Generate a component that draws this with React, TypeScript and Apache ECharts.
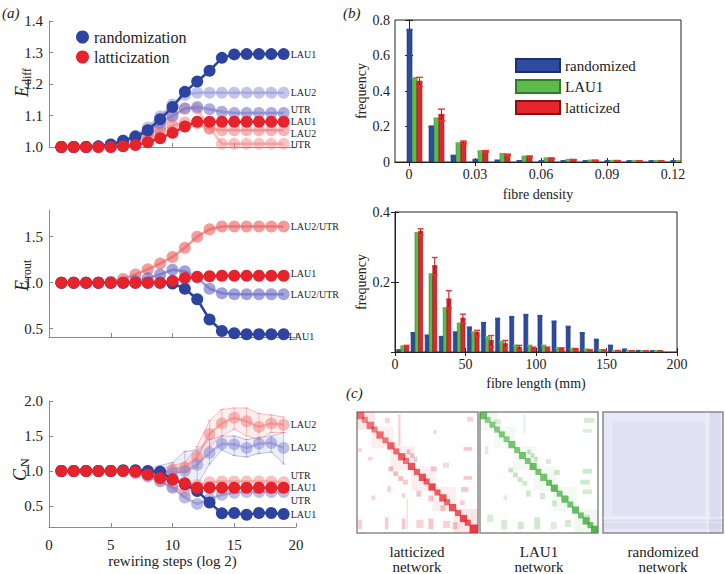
import React, { useEffect, useRef } from 'react';
import * as echarts from 'echarts';

const FONT = 'Liberation Serif, DejaVu Serif, serif';

// ---------- panel (a) data ----------
const steps = [1, 2, 3, 4, 5, 6, 7, 8, 9, 10, 11, 12, 13, 14, 15, 16, 17, 18, 19];

const ediffRandLAU1 = [1.0, 1.0, 1.0, 1.002, 1.008, 1.02, 1.033, 1.053, 1.088, 1.127, 1.175, 1.208, 1.242, 1.283, 1.294, 1.295, 1.295, 1.295, 1.295];
const ediffRandLAU2 = [1.0, 1.0, 1.0, 1.002, 1.008, 1.02, 1.036, 1.062, 1.098, 1.135, 1.165, 1.172, 1.172, 1.172, 1.172, 1.172, 1.172, 1.172, 1.172];
const ediffRandUTR = [1.0, 1.0, 1.0, 1.002, 1.006, 1.016, 1.03, 1.05, 1.075, 1.1, 1.122, 1.127, 1.12, 1.112, 1.108, 1.108, 1.108, 1.108, 1.108];
const ediffLatLAU1 = [1.0, 1.0, 1.0, 1.0, 1.0, 1.002, 1.006, 1.015, 1.028, 1.045, 1.065, 1.08, 1.08, 1.08, 1.08, 1.08, 1.08, 1.08, 1.08];
const ediffLatLAU2 = [1.0, 1.0, 1.0, 1.0, 1.0, 1.003, 1.01, 1.028, 1.05, 1.068, 1.078, 1.075, 1.058, 1.053, 1.053, 1.053, 1.053, 1.053, 1.053];
const ediffLatUTR = [1.0, 1.0, 1.0, 1.0, 1.0, 1.003, 1.012, 1.035, 1.06, 1.095, 1.122, 1.122, 1.06, 1.01, 1.01, 1.01, 1.01, 1.01, 1.01];

const eroutRandLAU1 = [1, 1, 1, 1, 1, 1, 1, 1, 1.0, 0.99, 0.935, 0.82, 0.6, 0.475, 0.45, 0.44, 0.44, 0.44, 0.44];
const eroutRandLAU2UTR = [1, 1, 1, 1, 1, 1, 1.02, 1.05, 1.09, 1.14, 1.125, 1.055, 0.935, 0.885, 0.875, 0.875, 0.875, 0.875, 0.875];
const eroutLatLAU1 = [1, 1, 1, 1, 1, 1, 1, 1, 1.0, 1.02, 1.05, 1.065, 1.07, 1.075, 1.075, 1.075, 1.075, 1.075, 1.075];
const eroutLatLAU2UTR = [1, 1, 1, 1, 1.01, 1.04, 1.09, 1.145, 1.21, 1.28, 1.38, 1.5, 1.58, 1.61, 1.61, 1.61, 1.61, 1.61, 1.61];

const cnRandLAU1 = [1, 1, 1, 1, 1, 1.01, 1.01, 1.0, 0.99, 0.88, 0.81, 0.715, 0.55, 0.395, 0.4, 0.375, 0.4, 0.4, 0.385];
const cnRandLAU2 = [1, 1, 1, 1, 1, 1, 1, 0.99, 0.98, 0.98, 1.0, 1.09, 1.26, 1.39, 1.38, 1.33, 1.39, 1.4, 1.33];
const cnRandUTR = [1, 1, 1, 1, 1, 1, 0.98, 0.93, 0.86, 0.76, 0.62, 0.53, 0.6, 0.66, 0.69, 0.7, 0.7, 0.7, 0.7];
const cnLatLAU1 = [1, 1, 1, 1, 1, 1, 0.99, 0.95, 0.9, 0.88, 0.825, 0.76, 0.76, 0.76, 0.76, 0.76, 0.76, 0.76, 0.76];
const cnLatLAU2 = [1, 1, 1, 1, 1, 1, 1, 0.99, 0.98, 1.02, 1.05, 1.2, 1.53, 1.68, 1.76, 1.71, 1.63, 1.68, 1.66];
const cnLatUTR = [1, 1, 1, 1, 1, 1, 0.97, 0.92, 0.85, 0.77, 0.7, 0.8, 0.84, 0.85, 0.85, 0.85, 0.85, 0.85, 0.84];

const cnRandLAU2Lo = [1, 1, 1, 1, 1, 0.99, 0.98, 0.96, 0.94, 0.9, 0.85, 0.8, 1.1, 1.3, 1.22, 1.2, 1.25, 1.27, 1.1];
const cnRandLAU2Hi = [1, 1, 1, 1, 1, 1.01, 1.02, 1.03, 1.08, 1.12, 1.28, 1.3, 1.45, 1.5, 1.5, 1.45, 1.48, 1.5, 1.55];
const cnLatLAU2Lo = [1, 1, 1, 1, 1, 0.99, 0.98, 0.96, 0.95, 0.97, 0.98, 1.05, 1.35, 1.5, 1.6, 1.5, 1.45, 1.55, 1.55];
const cnLatLAU2Hi = [1, 1, 1, 1, 1, 1.01, 1.02, 1.02, 1.02, 1.08, 1.12, 1.35, 1.72, 1.88, 1.9, 1.9, 1.82, 1.8, 1.77];

// ---------- panel (b) data ----------
const densBins = [0, 0.01, 0.02, 0.03, 0.04, 0.05, 0.06, 0.07, 0.08, 0.09, 0.1, 0.11, 0.12];
const densRand = [0.745, 0.2, 0.035, 0.012, 0.008, 0.005, 0.003, 0.002, 0.001, 0.001, 0.001, 0.001, 0.003];
const densLAU1 = [0.472, 0.245, 0.105, 0.06, 0.045, 0.03, 0.02, 0.012, 0.008, 0.006, 0.004, 0.002, 0.001];
const densLatt = [0.452, 0.265, 0.11, 0.06, 0.04, 0.03, 0.02, 0.012, 0.008, 0.006, 0.004, 0.002, 0.001];
const densLattErr = [0.025, 0.033, 0.008, 0.004, 0.004, 0.003, 0.002, 0.001, 0.001, 0.001, 0.001, 0.001, 0.001];
const densTicks = [0, 0.03, 0.06, 0.09, 0.12];

const lenBins = [0, 10, 20, 30, 40, 50, 60, 70, 80, 90, 100, 110, 120, 130, 140, 150, 160, 170, 180];
const lenRand = [0.005, 0.054, 0.047, 0.043, 0.056, 0.07, 0.083, 0.095, 0.1, 0.106, 0.103, 0.087, 0.072, 0.054, 0.035, 0.018, 0.007, 0.003, 0.002];
const lenLAU1 = [0.016, 0.34, 0.222, 0.125, 0.081, 0.056, 0.042, 0.029, 0.018, 0.018, 0.018, 0.011, 0.009, 0.007, 0.005, 0.002, 0.001, 0.001, 0.0];
const lenLatt = [0.016, 0.343, 0.245, 0.15, 0.095, 0.054, 0.031, 0.022, 0.012, 0.01, 0.01, 0.008, 0.007, 0.005, 0.004, 0.003, 0.002, 0.001, 0.001];
const lenLattErr = [0.003, 0.009, 0.025, 0.025, 0.013, 0.008, 0.016, 0.011, 0.007, 0.004, 0.004, 0.004, 0.003, 0.002, 0.002, 0.001, 0.001, 0.001, 0.001];

// ---------- panel (c) data (0-100 matrix scale) ----------
// diagonal clusters: [start, size, density]
const latDiag = [
  [0, 6, 0.6], [4, 5, 0.5], [8, 6, 0.6], [12, 5, 0.55], [16, 6, 0.65], [21, 5, 0.6], [25, 6, 0.7], [30, 5, 0.65],
  [34, 6, 0.7], [38, 5, 0.6], [42, 6, 0.75], [47, 5, 0.7], [51, 6, 0.75], [55, 5, 0.7], [59, 6, 0.8], [64, 5, 0.7],
  [68, 6, 0.75], [72, 5, 0.65], [76, 6, 0.75], [81, 5, 0.7], [85, 6, 0.8], [89, 5, 0.75], [93, 7, 0.85],
];
const lauDiag = [
  [0, 6, 0.7], [4, 5, 0.55], [8, 5, 0.6], [12, 5, 0.6], [16, 5, 0.65], [20, 5, 0.6], [24, 6, 0.7], [29, 5, 0.65],
  [33, 6, 0.7], [38, 5, 0.65], [42, 6, 0.75], [47, 5, 0.7], [51, 6, 0.7], [56, 5, 0.75], [60, 6, 0.8], [65, 5, 0.7],
  [69, 6, 0.75], [74, 5, 0.7], [78, 6, 0.75], [83, 5, 0.7], [87, 6, 0.8], [91, 5, 0.75], [94, 6, 0.85],
];
// other patches: [x0, y0, x1, y1, density]
const latPatches = [
  [0, 0, 15, 15, 0.1], [12, 12, 30, 30, 0.07], [28, 28, 48, 48, 0.07], [45, 45, 65, 65, 0.07], [62, 62, 82, 82, 0.07], [80, 80, 100, 100, 0.1],
  [34, 2, 36, 28, 0.2], [23, 5, 27, 9, 0.2], [91, 4, 96, 8, 0.2], [1, 30, 4, 33, 0.2], [9, 37, 13, 40, 0.18],
  [26, 45, 30, 49, 0.3], [30, 49, 34, 53, 0.3], [34, 53, 38, 57, 0.28], [38, 56, 42, 60, 0.25],
  [41, 31, 44, 35, 0.28], [44, 34, 47, 38, 0.28], [47, 37, 50, 41, 0.25],
  [61, 45, 66, 49, 0.22], [71, 42, 76, 46, 0.18], [88, 29, 95, 32, 0.25], [88, 53, 95, 56, 0.25], [86, 62, 92, 66, 0.25],
  [85, 73, 89, 77, 0.22], [49, 65, 53, 70, 0.25], [59, 69, 63, 74, 0.25], [69, 77, 73, 82, 0.25], [25, 61, 28, 66, 0.2],
  [12, 69, 15, 73, 0.18], [37, 67, 40, 71, 0.2], [1, 89, 4, 97, 0.22], [23, 87, 26, 97, 0.22], [37, 88, 40, 97, 0.25],
  [49, 89, 55, 96, 0.2], [59, 88, 63, 97, 0.25], [71, 90, 77, 96, 0.2], [41, 72, 42, 97, 0.18], [63, 15, 66, 18, 0.18],
  [79, 91, 83, 97, 0.25],
];
const lauPatches = [
  [0, 0, 15, 15, 0.08], [12, 12, 30, 30, 0.06], [28, 28, 48, 48, 0.06], [45, 45, 65, 65, 0.06], [62, 62, 82, 82, 0.06], [80, 80, 100, 100, 0.08],
  [37, 2, 38, 18, 0.2], [88, 5, 97, 9, 0.22], [87, 14, 95, 17, 0.18], [12, 6, 18, 10, 0.18], [4, 28, 7, 35, 0.18],
  [40, 31, 43, 35, 0.3], [43, 34, 46, 38, 0.3], [46, 37, 49, 41, 0.28], [24, 46, 28, 50, 0.3], [28, 50, 32, 54, 0.3],
  [32, 54, 36, 58, 0.28], [36, 57, 40, 61, 0.25], [56, 39, 60, 43, 0.22], [63, 48, 68, 52, 0.25], [87, 47, 95, 51, 0.25],
  [85, 56, 93, 60, 0.25], [87, 64, 95, 68, 0.22], [39, 65, 43, 70, 0.25], [51, 67, 55, 72, 0.25], [61, 73, 65, 78, 0.22],
  [20, 69, 23, 73, 0.18], [6, 85, 11, 91, 0.2], [18, 89, 23, 97, 0.22], [32, 91, 37, 97, 0.25], [46, 87, 51, 97, 0.25],
  [60, 91, 65, 97, 0.2], [72, 89, 77, 95, 0.22], [88, 85, 93, 89, 0.22],
];
const randPatches = [
  [0, 0, 100, 100, 0.14], [8, 8, 85, 85, 0.05], [89, 0, 98, 100, 0.08], [0, 89, 100, 97, 0.06],
  [86.5, 0, 87.5, 100, -0.45], [0, 87, 100, 88, -0.45], [0, 91, 100, 91.8, -0.35],
];

// ---------- styles ----------
const BLUE = '#2c44a0';
const RED = '#e6222a';
const aAxisColor = '#8a8a8a';

function buildOption(): any {
  const aLine = { show: true, lineStyle: { color: aAxisColor, width: 1 } };
  const aTick = { show: true, inside: true, length: 4, lineStyle: { color: aAxisColor } };
  const aLabel = { color: '#222', fontFamily: FONT, fontSize: 15, margin: 6, formatter: (v: number) => v.toFixed(1) };
  const bLine = { show: true, lineStyle: { color: '#222', width: 1 } };
  const bTick = { show: true, inside: true, length: 4, lineStyle: { color: '#222' } };
  const bLabel = { color: '#222', fontFamily: FONT, fontSize: 14, margin: 5 };
  const noSplit = { show: false };
  const nameStyle = { color: '#222', fontFamily: FONT, fontSize: 14 };

  const grids = [
    { left: 49, top: 21, width: 247, height: 126 },
    { left: 49, top: 210, width: 247, height: 127 },
    { left: 49, top: 401, width: 247, height: 126 },
    { left: 395, top: 20, width: 286, height: 142, show: true, borderColor: '#222', borderWidth: 1 },
    { left: 395, top: 212, width: 282, height: 140, show: true, borderColor: '#222', borderWidth: 1 },
    { left: 357, top: 412, width: 121, height: 121, show: true, borderColor: '#8a8a8a', borderWidth: 1.5 },
    { left: 480, top: 412, width: 118, height: 121, show: true, borderColor: '#8a8a8a', borderWidth: 1.5 },
    { left: 603, top: 412, width: 120, height: 121, show: true, borderColor: '#8a8a8a', borderWidth: 1.5 },
  ].map((g) => ({ ...g, containLabel: false, outerBoundsMode: 'none' }));

  const xAxis: any[] = [
    { type: 'value', gridIndex: 0, min: 0, max: 20, interval: 5, axisLine: aLine, axisTick: aTick, axisLabel: { show: false }, splitLine: noSplit },
    { type: 'value', gridIndex: 1, min: 0, max: 20, interval: 5, axisLine: aLine, axisTick: aTick, axisLabel: { show: false }, splitLine: noSplit },
    {
      type: 'value', gridIndex: 2, min: 0, max: 20, interval: 5, axisLine: aLine, axisTick: aTick,
      axisLabel: { color: '#222', fontFamily: FONT, fontSize: 15, margin: 10 }, splitLine: noSplit,
      name: 'rewiring steps (log 2)', nameLocation: 'middle', nameGap: 26, nameTextStyle: { ...nameStyle, fontSize: 15 },
    },
    {
      type: 'value', gridIndex: 3, min: -0.0064, max: 0.1236, axisLine: bLine,
      axisTick: { ...bTick, customValues: densTicks },
      axisLabel: { ...bLabel, customValues: densTicks, formatter: (v: number) => (v === 0 ? '0' : String(v)) },
      splitLine: noSplit, name: 'fibre density', nameLocation: 'middle', nameGap: 25, nameTextStyle: nameStyle,
    },
    {
      type: 'value', gridIndex: 4, min: 0, max: 200, interval: 50, axisLine: bLine, axisTick: bTick,
      axisLabel: { ...bLabel }, splitLine: noSplit, name: 'fibre length (mm)', nameLocation: 'middle', nameGap: 24, nameTextStyle: nameStyle,
    },
    { type: 'value', gridIndex: 5, min: 0, max: 100, show: false },
    { type: 'value', gridIndex: 6, min: 0, max: 100, show: false },
    { type: 'value', gridIndex: 7, min: 0, max: 100, show: false },
    { type: 'value', gridIndex: 3, position: 'top', min: -0.0064, max: 0.1236, axisLine: bLine, axisTick: { ...bTick, customValues: densTicks }, axisLabel: { show: false }, splitLine: noSplit },
    { type: 'value', gridIndex: 4, position: 'top', min: 0, max: 200, interval: 50, axisLine: bLine, axisTick: bTick, axisLabel: { show: false }, splitLine: noSplit },
  ];

  const yAxis: any[] = [
    { type: 'value', gridIndex: 0, min: 1.0, max: 1.4, interval: 0.1, axisLine: aLine, axisTick: aTick, axisLabel: aLabel, splitLine: noSplit },
    {
      type: 'value', gridIndex: 1, min: 0.41, max: 1.79, axisLine: aLine,
      axisTick: { ...aTick, customValues: [0.5, 1.0, 1.5] }, axisLabel: { ...aLabel, customValues: [0.5, 1.0, 1.5] }, splitLine: noSplit,
    },
    {
      type: 'value', gridIndex: 2, min: 0.2, max: 2.0, axisLine: aLine,
      axisTick: { ...aTick, customValues: [0.5, 1.0, 1.5, 2.0] }, axisLabel: { ...aLabel, customValues: [0.5, 1.0, 1.5, 2.0] }, splitLine: noSplit,
    },
    {
      type: 'value', gridIndex: 3, min: 0, max: 0.8, interval: 0.2, axisLine: bLine, axisTick: bTick,
      axisLabel: { ...bLabel, formatter: (v: number) => (v === 0 ? '0' : v.toFixed(1)) }, splitLine: noSplit,
      name: 'frequency', nameLocation: 'middle', nameGap: 22, nameTextStyle: nameStyle,
    },
    {
      type: 'value', gridIndex: 4, min: 0, max: 0.4, interval: 0.2, axisLine: bLine, axisTick: bTick,
      axisLabel: { ...bLabel, formatter: (v: number) => (v === 0 ? '' : v.toFixed(1)) }, splitLine: noSplit,
      name: 'frequency', nameLocation: 'middle', nameGap: 22, nameTextStyle: nameStyle,
    },
    { type: 'value', gridIndex: 5, min: 0, max: 100, inverse: true, show: false },
    { type: 'value', gridIndex: 6, min: 0, max: 100, inverse: true, show: false },
    { type: 'value', gridIndex: 7, min: 0, max: 100, inverse: true, show: false },
    { type: 'value', gridIndex: 3, position: 'right', min: 0, max: 0.8, interval: 0.2, axisLine: bLine, axisTick: bTick, axisLabel: { show: false }, splitLine: noSplit },
    { type: 'value', gridIndex: 4, position: 'right', min: 0, max: 0.4, interval: 0.2, axisLine: bLine, axisTick: bTick, axisLabel: { show: false }, splitLine: noSplit },
  ];

  const line = (name: string, vals: number[], color: string, ai: number, label: string, off: number[], z: number) => ({
    type: 'line', name, xAxisIndex: ai, yAxisIndex: ai, data: steps.map((s, i) => [s, vals[i]]),
    symbol: 'circle', symbolSize: 12, showSymbol: true, lineStyle: { color, width: 2.5 }, itemStyle: { color },
    z, silent: true,
    endLabel: { show: true, formatter: label, color: '#222', fontFamily: FONT, fontSize: 10, lineHeight: 8, distance: 7, offset: off },
  });

  const band = (name: string, lo: number[], hi: number[], color: string, stroke: string) => ({
    type: 'custom', name, xAxisIndex: 2, yAxisIndex: 2, z: 1, silent: true,
    data: steps.map((s, i) => [s, lo[i], hi[i]]),
    encode: { x: 0, y: [1, 2] },
    renderItem: (params: any, api: any) => {
      const i = params.dataIndex;
      const children: any[] = [];
      const pl = api.coord([steps[i], lo[i]]);
      const ph = api.coord([steps[i], hi[i]]);
      if (i < steps.length - 1) {
        const ql = api.coord([steps[i + 1], lo[i + 1]]);
        const qh = api.coord([steps[i + 1], hi[i + 1]]);
        children.push({ type: 'polygon', shape: { points: [pl, ql, qh, ph] }, style: { fill: color } });
        children.push({ type: 'line', shape: { x1: pl[0], y1: pl[1], x2: ql[0], y2: ql[1] }, style: { stroke, lineWidth: 1 } });
        children.push({ type: 'line', shape: { x1: ph[0], y1: ph[1], x2: qh[0], y2: qh[1] }, style: { stroke, lineWidth: 1 } });
      }
      children.push({ type: 'line', shape: { x1: pl[0], y1: pl[1], x2: ph[0], y2: ph[1] }, style: { stroke, lineWidth: 1 } });
      children.push({ type: 'line', shape: { x1: pl[0] - 2, y1: pl[1], x2: pl[0] + 2, y2: pl[1] }, style: { stroke, lineWidth: 1 } });
      children.push({ type: 'line', shape: { x1: ph[0] - 2, y1: ph[1], x2: ph[0] + 2, y2: ph[1] }, style: { stroke, lineWidth: 1 } });
      return { type: 'group', children };
    },
  });

  const barItem = (offset: number, w: number, fill: string, edge: string, withErr: boolean) => (params: any, api: any) => {
    const x = api.value(0) + offset;
    const y = api.value(1);
    const b = api.coord([x, 0]);
    const t = api.coord([x, y]);
    const h = Math.max(b[1] - t[1], 0.8);
    const top = b[1] - h;
    const ch: any[] = [
      { type: 'rect', shape: { x: b[0] - w / 2, y: top, width: w, height: h }, style: { fill, stroke: edge, lineWidth: 0.6 } },
      { type: 'line', shape: { x1: b[0] - w / 2 - 0.5, y1: top, x2: b[0] + w / 2 + 0.5, y2: top }, style: { stroke: fill, lineWidth: 2.2 } },
    ];
    if (withErr) {
      const e = api.value(2);
      const hi = api.coord([x, y + e]);
      const lo = api.coord([x, Math.max(y - e, 0)]);
      ch.push({ type: 'line', shape: { x1: b[0], y1: hi[1], x2: b[0], y2: lo[1] }, style: { stroke: '#b01010', lineWidth: 1 } });
      ch.push({ type: 'line', shape: { x1: b[0] - w / 2 - 1, y1: hi[1], x2: b[0] + w / 2 + 1, y2: hi[1] }, style: { stroke: '#ee3030', lineWidth: 1.4 } });
      ch.push({ type: 'line', shape: { x1: b[0] - w / 2 - 1, y1: lo[1], x2: b[0] + w / 2 + 1, y2: lo[1] }, style: { stroke: '#ee3030', lineWidth: 1.4 } });
    }
    return { type: 'group', children: ch };
  };

  const bars = (name: string, bins: number[], vals: number[], errs: number[] | null, ai: number, offset: number, w: number, fill: string, edge: string) => ({
    type: 'custom', name, xAxisIndex: ai, yAxisIndex: ai, silent: true, clip: true,
    itemStyle: { color: fill, borderColor: edge, borderWidth: 1 },
    data: bins.map((b, i) => [b, vals[i], errs ? errs[i] : 0]),
    encode: { x: 0, y: 1 },
    renderItem: barItem(offset, w, fill, edge, !!errs),
  });

  const matrix = (name: string, diag: number[][], patches: number[][], ai: number, rgb: string) => ({
    type: 'custom', name, xAxisIndex: ai, yAxisIndex: ai, silent: true, clip: true,
    data: [...patches, ...diag.map((d) => [d[0], d[0], d[0] + d[1], d[0] + d[1], d[2]])],
    encode: { x: [0, 2], y: [1, 3] },
    renderItem: (params: any, api: any) => {
      const p0 = api.coord([api.value(0), api.value(1)]);
      const p1 = api.coord([api.value(2), api.value(3)]);
      const a = api.value(4);
      const fill = a < 0 ? `rgba(255,255,255,${-a})` : `rgba(${rgb},${a})`;
      return {
        type: 'rect',
        shape: { x: Math.min(p0[0], p1[0]), y: Math.min(p0[1], p1[1]), width: Math.abs(p1[0] - p0[0]), height: Math.abs(p1[1] - p0[1]) },
        style: { fill },
      };
    },
  });

  const BLUE_B = '#2d4b9f', BLUE_E = '#1c2f70';
  const GREEN_B = '#5dbb4b', GREEN_E = '#2f7d28';
  const RED_B = '#e3262c', RED_E = '#8a1014';

  const series: any[] = [
    // (a) top
    line('ed_lat_UTR', ediffLatUTR, 'rgba(240,120,120,0.45)', 0, 'UTR', [0, 1], 2),
    line('ed_lat_LAU2', ediffLatLAU2, 'rgba(240,110,110,0.5)', 0, 'LAU2', [0, 3], 2),
    line('ed_rand_LAU2', ediffRandLAU2, 'rgba(140,140,215,0.5)', 0, 'LAU2', [0, 0], 3),
    line('ed_rand_UTR', ediffRandUTR, 'rgba(120,120,205,0.6)', 0, 'UTR', [0, -3], 3),
    line('randomization', ediffRandLAU1, BLUE, 0, 'LAU1', [0, 0], 4),
    line('latticization', ediffLatLAU1, RED, 0, 'LAU1', [0, 0], 5),
    // (a) middle
    line('er_lat_LAU2UTR', eroutLatLAU2UTR, 'rgba(236,90,90,0.6)', 1, 'LAU2/UTR', [0, 0], 2),
    line('er_rand_LAU2UTR', eroutRandLAU2UTR, 'rgba(100,100,200,0.6)', 1, 'LAU2/UTR', [0, 0], 3),
    line('er_rand_LAU1', eroutRandLAU1, BLUE, 1, 'LAU1', [-2, 2], 4),
    line('er_lat_LAU1', eroutLatLAU1, RED, 1, 'LAU1', [0, -2], 5),
    // (a) bottom
    band('cn_band_rand', cnRandLAU2Lo, cnRandLAU2Hi, 'rgba(120,120,210,0.13)', 'rgba(120,120,210,0.45)'),
    band('cn_band_lat', cnLatLAU2Lo, cnLatLAU2Hi, 'rgba(240,120,120,0.13)', 'rgba(240,120,120,0.45)'),
    line('cn_lat_LAU2', cnLatLAU2, 'rgba(240,120,120,0.5)', 2, 'LAU2', [0, 0], 2),
    line('cn_rand_LAU2', cnRandLAU2, 'rgba(130,130,210,0.5)', 2, 'LAU2', [0, 0], 2),
    line('cn_lat_UTR', cnLatUTR, 'rgba(240,120,120,0.45)', 2, 'UTR', [0, -7], 2),
    line('cn_rand_UTR', cnRandUTR, 'rgba(120,120,205,0.5)', 2, 'UTR', [0, 8], 3),
    line('cn_rand_LAU1', cnRandLAU1, BLUE, 2, 'LAU1', [0, 0], 4),
    line('cn_lat_LAU1', cnLatLAU1, RED, 2, 'LAU1', [0, 0], 5),
    // (b) density
    bars('randomized', densBins, densRand, null, 3, 0.0002, 5, BLUE_B, BLUE_E),
    bars('LAU1', densBins, densLAU1, null, 3, 0.0025, 5, GREEN_B, GREEN_E),
    bars('latticized', densBins, densLatt, densLattErr, 3, 0.0047, 5, RED_B, RED_E),
    // (b) length
    bars('randomized', lenBins, lenRand, null, 4, 2.8, 4, BLUE_B, BLUE_E),
    bars('LAU1', lenBins, lenLAU1, null, 4, 5.6, 4, GREEN_B, GREEN_E),
    bars('latticized', lenBins, lenLatt, lenLattErr, 4, 8.2, 4, RED_B, RED_E),
    // (c)
    matrix('mat_latticized', latDiag, latPatches, 5, '228,30,36'),
    matrix('mat_LAU1', lauDiag, lauPatches, 6, '58,170,53'),
    matrix('mat_randomized', [], randPatches, 7, '90,90,190'),
  ];

  const yName = (x: number, y: number, main: string, sub: string, subX: number) => ({
    type: 'group', x, y, rotation: Math.PI / 2, silent: true,
    children: [
      { type: 'text', x: 0, y: 0, style: { text: main, font: `italic 18px ${FONT}`, fill: '#222', textVerticalAlign: 'middle' } },
      { type: 'text', x: subX, y: 5, style: { text: sub, font: `12px ${FONT}`, fill: '#222', textVerticalAlign: 'middle' } },
    ],
  });
  const txt = (x: number, y: number, text: string, size: number, italic = false, align = 'left') => ({
    type: 'text', x, y, silent: true,
    style: { text, font: `${italic ? 'italic ' : ''}${size}px ${FONT}`, fill: '#222', textAlign: align, textVerticalAlign: 'middle' },
  });

  return {
    animation: false,
    backgroundColor: '#fff',
    grid: grids,
    xAxis,
    yAxis,
    legend: [
      {
        data: ['randomization', 'latticization'], orient: 'vertical', left: 76, top: 29, padding: 0,
        icon: 'circle', itemWidth: 13, itemHeight: 13, itemGap: 4, selectedMode: false,
        textStyle: { color: '#222', fontFamily: FONT, fontSize: 16, lineHeight: 13 },
      },
      {
        data: ['randomized', 'LAU1', 'latticized'], orient: 'vertical', left: 515, top: 58, padding: 0,
        icon: 'rect', itemWidth: 44, itemHeight: 13, itemGap: 6, selectedMode: false,
        textStyle: { color: '#222', fontFamily: FONT, fontSize: 15, lineHeight: 13 },
      },
    ],
    graphic: [
      yName(22, 97, 'E', 'diff', 12),
      yName(22, 291, 'E', 'rout', 12),
      yName(20, 481, 'C', 'N', 14),
      txt(2, 13, '(a)', 15, true),
      txt(343, 13, '(b)', 15, true),
      txt(346, 393, '(c)', 15, true),
      txt(417, 552, 'latticized', 15, false, 'center'),
      txt(417, 567, 'network', 15, false, 'center'),
      txt(539, 552, 'LAU1', 15, false, 'center'),
      txt(539, 567, 'network', 15, false, 'center'),
      txt(663, 552, 'randomized', 15, false, 'center'),
      txt(663, 567, 'network', 15, false, 'center'),
    ],
    series,
  };
}

export default function App() {
  const ref = useRef<HTMLDivElement>(null);
  useEffect(() => {
    const chart = echarts.init(ref.current as HTMLDivElement, null, { renderer: 'svg' });
    chart.setOption(buildOption());
    return () => chart.dispose();
  }, []);
  return (
    <div
      ref={ref}
      style={{ position: 'fixed', left: 0, top: 0, width: 725, height: 574, background: '#fff' }}
    />
  );
}
